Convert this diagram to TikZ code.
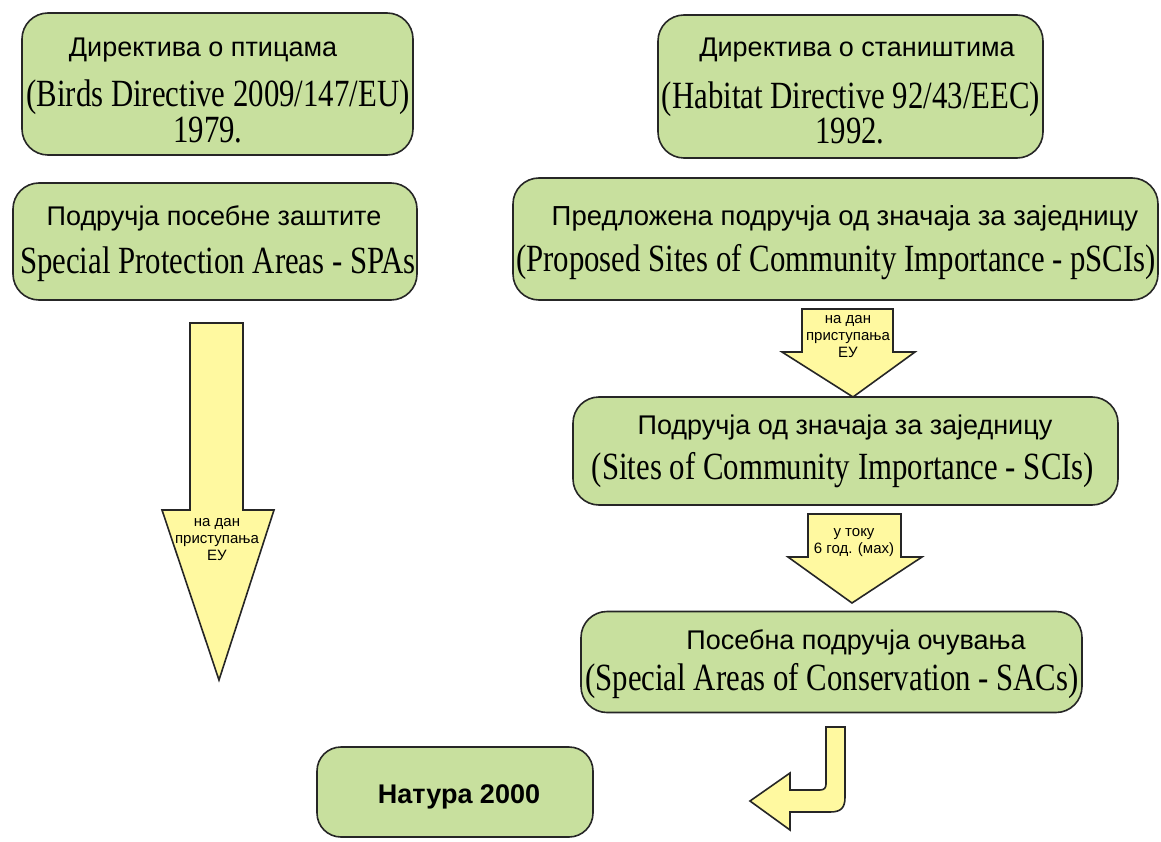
\documentclass[tikz,border=0pt]{standalone}
\usepackage{fontspec}
\setmainfont{Liberation Sans}
\newfontfamily\tnr[FakeStretch=0.8]{Liberation Serif}
\definecolor{boxgreen}{RGB}{200,224,158}
\definecolor{arrowyellow}{RGB}{255,249,160}
\begin{document}
\begin{tikzpicture}[x=1pt,y=-1pt,
  box/.style={draw=black!85, line width=1.6pt, fill=boxgreen, rounded corners=26pt, inner sep=0pt},
  blockarrow/.style={draw=black!85, line width=1.6pt, fill=arrowyellow, line join=miter},
  cyr/.style={inner sep=0pt, font=\fontsize{27}{32}\selectfont},
  lat/.style={inner sep=0pt, font=\tnr\fontsize{38.5}{44}\selectfont},
  small/.style={inner sep=0pt, align=center, font=\fontsize{15}{17}\selectfont}]
\useasboundingbox[fill=white] (0,0) rectangle (1161,842);

% boxes
\node[box, minimum width=391pt, minimum height=142pt] (b1) at (217.5,84) {};
\node[box, minimum width=404pt, minimum height=117pt] (b2) at (215,241.5) {};
\node[box, minimum width=385pt, minimum height=143pt] (b3) at (850.5,86.5) {};
\node[box, minimum width=645pt, minimum height=122pt] (b4) at (835.5,239) {};
\node[box, minimum width=545pt, minimum height=108pt] (b5) at (845.5,451) {};
\node[box, minimum width=501pt, minimum height=101pt] (b6) at (831.5,662) {};
\node[box, minimum width=276pt, minimum height=90pt, rounded corners=24pt] (b7) at (455,792) {};

% texts
\node[cyr] (t1a) at (203,50) {Директива о птицама};
\node[lat] (t1b) at (218,97) {(Birds Directive 2009/147/EU)};
\node[lat] (t1c) at (208,130) {1979.};
\node[cyr] (t2a) at (214,218) {Подручја посебне заштите};
\node[lat] (t2b) at (218,264) {Special Protection Areas - SPAs};
\node[cyr] (t3a) at (857,50) {Директива о стаништима};
\node[lat] (t3b) at (851,99) {(Habitat Directive 92/43/EEC)};
\node[lat] (t3c) at (850,131) {1992.};
\node[cyr, font=\fontsize{27.5}{33}\selectfont] (t4a) at (845,218) {Предложена подручја од значаја за заједницу};
\node[lat] (t4b) at (836,262) {(Proposed Sites of Community Importance - pSCIs)};
\node[cyr] (t5a) at (845,428) {Подручја од значаја за заједницу};
\node[lat] (t5b) at (843,470) {(Sites of Community Importance - SCIs)};
\node[cyr] (t6a) at (856,642) {Посебна подручја очувања};
\node[lat] (t6b) at (832,681) {(Special Areas of Conservation - SACs)};
\node[cyr, font=\bfseries\fontsize{27}{32}\selectfont] (t7) at (459,797) {Натура 2000};

% left long arrow
\draw[blockarrow] (190,323) -- (243,323) -- (243,510) -- (274,510) -- (219,680) -- (162,510) -- (190,510) -- cycle;
\node[small] (la) at (217,540) {на дан\\приступања\\ЕУ};

% arrow between b4 and b5
\draw[blockarrow] (802,309) -- (893,309) -- (893,352) -- (915,352) -- (853,397) -- (782,352) -- (802,352) -- cycle;
\node[small] (lb) at (848,337) {на дан\\приступања\\ЕУ};

% arrow between b5 and b6
\draw[blockarrow] (808,514) -- (901,514) -- (901,557) -- (922,557) -- (852,603) -- (788,557) -- (808,557) -- cycle;
\node[small] (lc) at (854,543) {у току\\6 год. (мах)};

% bent arrow
\draw[blockarrow] (826,727) -- (845,727) -- (845,797) .. controls (845,808) and (841,812) .. (830,812)
  -- (790,812) -- (790,830) -- (750,801) -- (790,773) -- (790,790) -- (820,790)
  .. controls (824,790) and (826,788) .. (826,784) -- cycle;
\end{tikzpicture}
\end{document}
